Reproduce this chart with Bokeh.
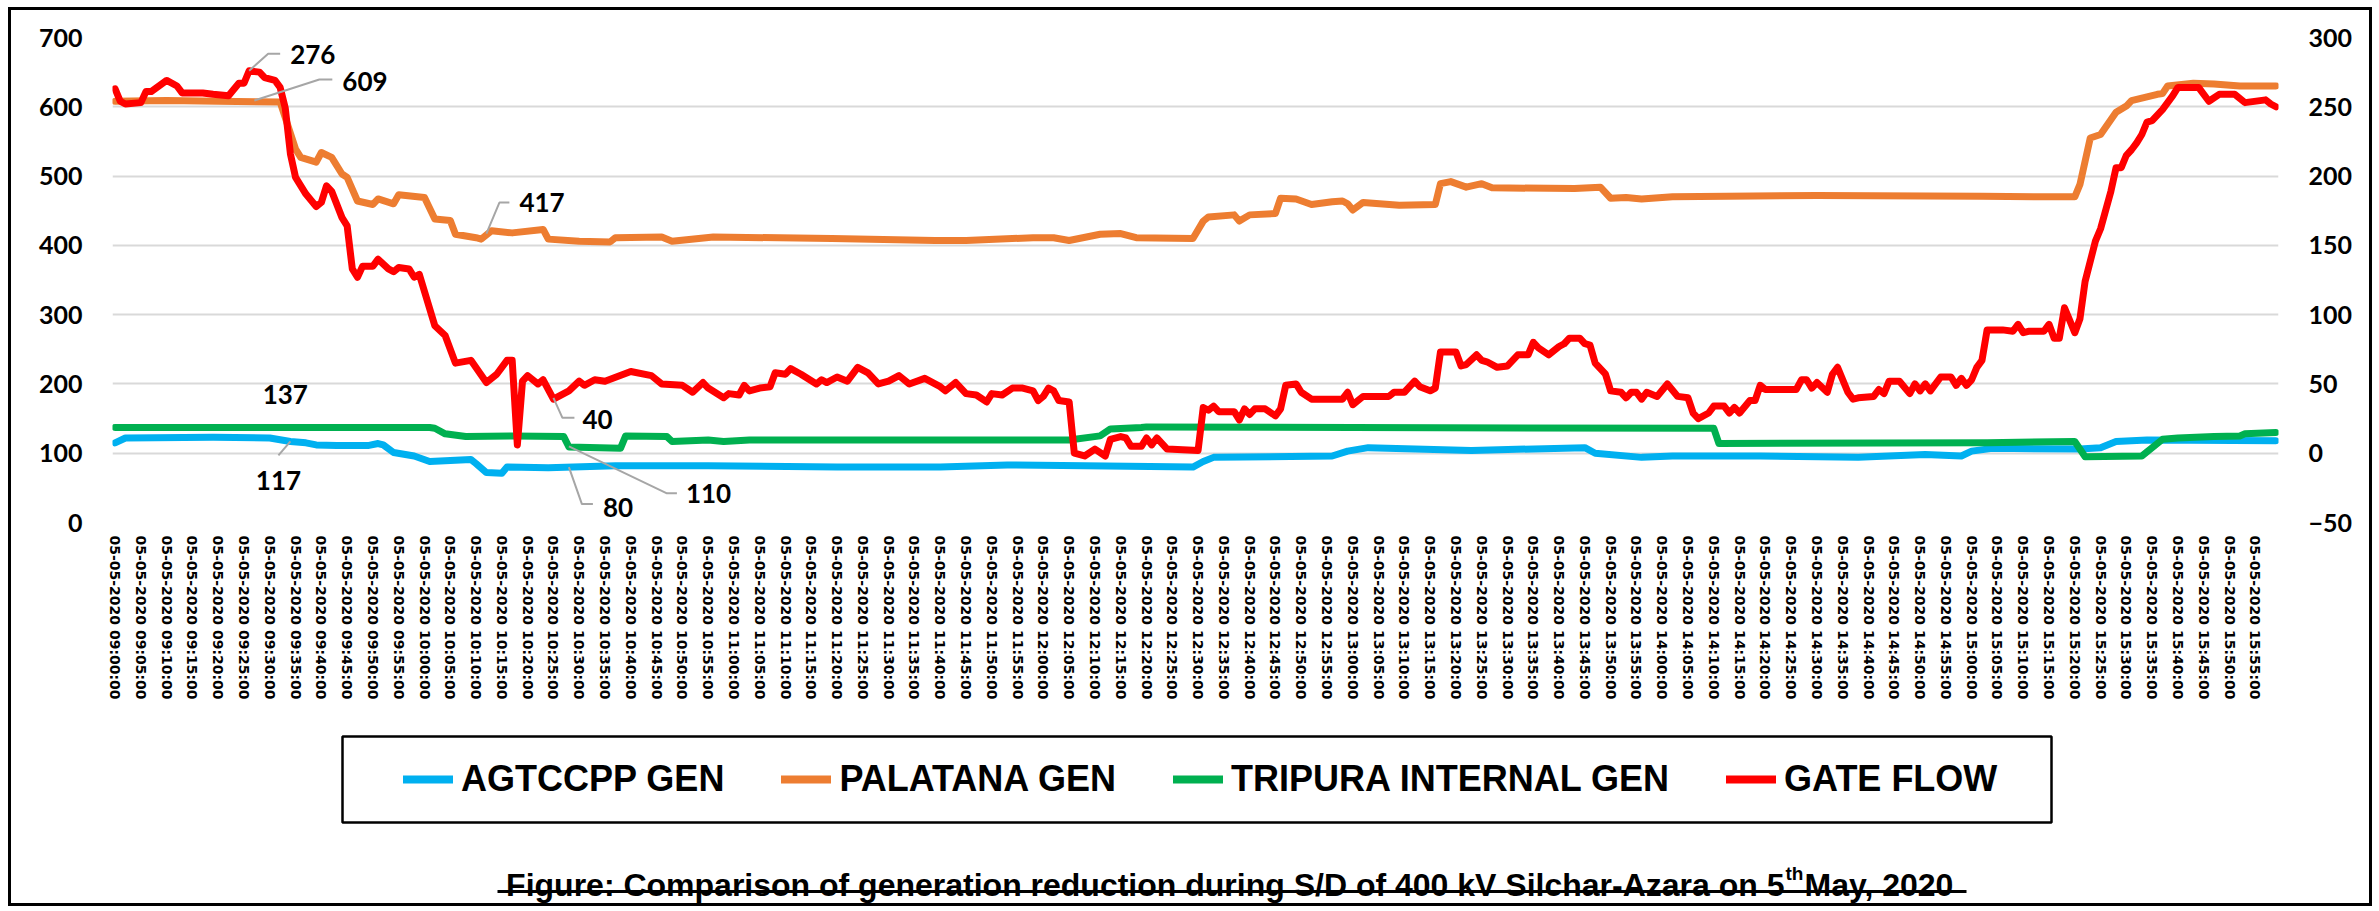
import math
from bokeh.plotting import figure
from bokeh.layouts import column
from bokeh.models import Range1d, LinearAxis, FixedTicker, Legend, LegendItem
from bokeh.core.properties import value
from bokeh.embed import file_html
from bokeh.resources import INLINE

# ---------------- data (minutes after 09:00, MW) ----------------
agtccpp_min = [0, 2, 19, 30, 34, 37, 39, 43, 49, 51,
               52, 54, 58, 61, 69, 70, 72, 75, 76, 84,
               97, 115, 140, 160, 173, 188, 209, 211, 213, 236,
               239, 243, 263, 285, 287, 296, 302, 319, 338, 351,
               358, 360, 364, 381, 385, 388, 394, 419]
agtccpp_mw = [115, 122, 123, 122, 117, 115, 112, 111, 111, 114,
              112, 101, 96, 88, 91, 85, 72, 71, 80, 79,
              82, 82, 80, 80, 83, 82, 80, 88, 94, 96,
              103, 108, 104, 108, 100, 94, 96, 96, 94, 98,
              96, 103, 107, 106, 108, 117, 119, 118]

palatana_min = [0, 10, 20, 32, 35, 36, 39, 40, 42, 44,
                45, 47, 50, 51, 54, 55, 60, 62, 65, 66,
                70, 71, 73, 77, 83, 84, 90, 96, 97, 106,
                108, 116, 139, 159, 165, 178, 182, 185, 191, 195,
                198, 209, 211, 212, 217, 218, 220, 225, 226, 229,
                232, 236, 238, 239, 240, 242, 249, 256, 257, 259,
                262, 265, 267, 283, 288, 290, 293, 296, 302, 330,
                362, 375, 380, 381, 383, 385, 388, 390, 391, 396,
                397, 398, 403, 407, 412, 419]
palatana_mw = [608, 609, 608, 607, 539, 527, 520, 534, 527, 503,
               498, 464, 459, 467, 460, 473, 469, 438, 436, 416,
               411, 409, 421, 418, 423, 409, 406, 405, 411, 412,
               406, 412, 410, 407, 407, 411, 411, 407, 416, 417,
               411, 410, 435, 441, 444, 435, 444, 446, 468, 467,
               459, 463, 464, 460, 451, 462, 458, 459, 489, 492,
               484, 489, 483, 482, 484, 468, 469, 467, 470, 472,
               471, 470, 470, 488, 555, 560, 592, 601, 609, 618,
               619, 630, 634, 633, 630, 630]

tripura_min = [0, 61, 62, 64, 68, 77, 87, 88, 98, 99,
               107, 108, 115, 118, 123, 185, 191, 193, 199, 200,
               240, 310, 311, 363, 380, 382, 393, 397, 400, 407,
               412, 413, 419]
tripura_mw = [137, 137, 136, 128, 124, 125, 124, 109, 107, 125,
              124, 117, 119, 117, 119, 119, 125, 135, 137, 138,
              137, 136, 114, 115, 117, 95, 96, 120, 122, 124,
              125, 128, 130]

gate_min = [0, 1, 2, 5, 6, 7, 10, 12, 13, 15,
            17, 19, 22, 24, 25, 26, 28, 29, 31, 32,
            33, 34, 35, 37, 39, 40, 41, 42, 44, 45,
            46, 47, 48, 50, 51, 53, 54, 55, 57, 58,
            59, 62, 64, 66, 69, 72, 74, 76, 77, 78,
            79, 80, 82, 83, 85, 88, 90, 91, 93, 95,
            100, 104, 106, 110, 112, 114, 115, 118, 119, 121,
            122, 123, 125, 127, 128, 130, 131, 133, 136, 137,
            138, 140, 142, 144, 146, 148, 150, 152, 154, 157,
            160, 161, 163, 165, 167, 169, 170, 172, 174, 176,
            178, 179, 180, 181, 182, 183, 185, 186, 188, 190,
            192, 193, 195, 196, 197, 199, 200, 201, 202, 204,
            210, 211, 212, 213, 214, 217, 218, 219, 220, 221,
            223, 225, 226, 227, 229, 230, 232, 238, 239, 240,
            242, 247, 248, 250, 252, 253, 255, 256, 257, 260,
            261, 262, 264, 265, 266, 268, 270, 272, 274, 275,
            276, 278, 280, 281, 282, 284, 285, 286, 287, 289,
            290, 292, 293, 294, 295, 296, 297, 299, 301, 303,
            305, 306, 307, 309, 310, 312, 313, 314, 315, 317,
            318, 319, 320, 326, 327, 328, 329, 330, 332, 333,
            334, 336, 337, 338, 341, 342, 343, 344, 346, 348,
            349, 350, 351, 352, 354, 356, 357, 358, 359, 360,
            361, 362, 363, 366, 368, 369, 370, 371, 374, 375,
            376, 377, 378, 380, 381, 382, 384, 385, 387, 388,
            389, 390, 391, 392, 393, 394, 395, 397, 399, 400,
            404, 406, 408, 411, 413, 417, 418, 419]
gate_mw = [263, 254, 252, 253, 261, 261, 269, 265, 260, 260,
           260, 259, 258, 267, 267, 276, 275, 271, 269, 264,
           249, 216, 199, 187, 178, 181, 193, 189, 170, 164,
           133, 127, 135, 135, 140, 133, 131, 134, 133, 127,
           129, 92, 85, 65, 67, 51, 57, 67, 67, 6,
           52, 56, 50, 53, 39, 45, 52, 49, 53, 52,
           59, 56, 50, 49, 44, 51, 47, 40, 43, 42,
           49, 45, 47, 48, 58, 57, 61, 57, 50, 53,
           51, 55, 52, 62, 58, 50, 52, 56, 50, 54,
           48, 45, 51, 43, 42, 37, 43, 42, 47, 47,
           45, 38, 41, 47, 45, 38, 37, 0, -2, 3,
           -2, 10, 12, 11, 5, 5, 11, 6, 11, 3,
           2, 33, 31, 34, 30, 30, 24, 32, 28, 32,
           32, 27, 32, 49, 50, 44, 39, 39, 44, 35,
           41, 41, 44, 44, 52, 48, 45, 47, 73, 73,
           63, 64, 71, 67, 66, 62, 63, 71, 71, 80,
           76, 71, 77, 79, 83, 83, 79, 78, 65, 57,
           45, 44, 40, 44, 44, 39, 44, 41, 50, 41,
           40, 29, 25, 29, 34, 34, 29, 33, 29, 38,
           38, 49, 46, 46, 53, 53, 47, 51, 44, 57,
           62, 44, 39, 40, 41, 46, 43, 52, 52, 43,
           50, 45, 50, 45, 55, 55, 49, 54, 49, 53,
           62, 67, 89, 89, 88, 93, 87, 88, 88, 93,
           83, 83, 105, 87, 97, 124, 153, 162, 189, 206,
           206, 215, 219, 224, 230, 239, 240, 248, 258, 264,
           264, 254, 259, 259, 253, 255, 252, 250]

series_names = ["AGTCCPP GEN", "PALATANA GEN", "TRIPURA INTERNAL GEN", "GATE FLOW"]
left_ticks = [0, 100, 200, 300, 400, 500, 600, 700]
right_ticks = [-50, 0, 50, 100, 150, 200, 250, 300]
tick_minutes = list(range(0, 420, 5))
tick_labels = ["05-05-2020 %02d:%02d:00" % (9 + m // 60, m % 60) for m in tick_minutes]

caption_main = "Figure: Comparison of generation reduction during S/D of 400 kV Silchar-Azara on 5"
caption_sup = "th"
caption_tail = " May, 2020"

# data labels
ann_text = ["276", "609", "137", "117", "417", "40", "110", "80"]
ann_min = [26, 27, 33, 34, 72, 85, 88, 88]
ann_val = [276, 609, 137, 117, 417, 40, 110, 80]
ann_axis = ["right", "left", "left", "left", "left", "right", "left", "left"]

# ---------------- layout / style ----------------
W = 2358
H1, H2 = 700, 193
BL, BR, BT = 101, 91, 27
FRAME_H = 485
BB = H1 - BT - FRAME_H
FRAME_W = W - BL - BR
XMIN, XMAX = -0.5, 419.5
LMIN, LMAX = 0, 700
RMIN, RMAX = -50, 300

C_BLUE, C_ORANGE, C_GREEN, C_RED = "#00B0F0", "#ED7D31", "#00B050", "#FF0000"
NUM_FONT = "Lato"
TXT_FONT = "Liberation Sans"
LW = 7

p = figure(width=W, height=H1, output_backend="svg", toolbar_location=None,
           x_range=Range1d(XMIN, XMAX), y_range=Range1d(LMIN, LMAX),
           min_border_left=BL, min_border_right=BR, min_border_top=BT, min_border_bottom=BB)
p.extra_y_ranges = {"right": Range1d(RMIN, RMAX)}
p.outline_line_color = None
p.background_fill_color = "white"
p.border_fill_color = "white"
p.xgrid.visible = False
p.ygrid.grid_line_color = "#d9d9d9"
p.ygrid.grid_line_width = 2


def style_y(axis):
    axis.axis_line_color = None
    axis.major_tick_line_color = None
    axis.minor_tick_line_color = None
    axis.major_tick_out = 0
    axis.major_label_standoff = 30
    axis.major_label_text_font = NUM_FONT
    axis.major_label_text_font_style = "bold"
    axis.major_label_text_font_size = "25px"
    axis.major_label_text_color = "black"


ya = p.yaxis[0]
ya.ticker = FixedTicker(ticks=left_ticks)
style_y(ya)

ra = LinearAxis(y_range_name="right", ticker=FixedTicker(ticks=right_ticks))
style_y(ra)
p.add_layout(ra, "right")

xa = p.xaxis[0]
xa.ticker = FixedTicker(ticks=tick_minutes)
xa.major_label_overrides = {m: lab for m, lab in zip(tick_minutes, tick_labels)}
xa.major_label_orientation = "vertical"
xa.axis_line_color = None
xa.major_tick_line_color = None
xa.minor_tick_line_color = None
xa.major_tick_out = 0
xa.major_label_standoff = 13
xa.major_label_text_font = "DejaVu Sans"
xa.major_label_text_font_style = "bold"
xa.major_label_text_font_size = "14px"
xa.major_label_text_color = "black"

# series
line_kw = dict(line_width=LW, line_join="round", line_cap="round")
p.line(agtccpp_min, agtccpp_mw, line_color=C_BLUE, **line_kw)
p.line(palatana_min, palatana_mw, line_color=C_ORANGE, **line_kw)
p.line(tripura_min, tripura_mw, line_color=C_GREEN, **line_kw)
p.line(gate_min, gate_mw, line_color=C_RED, y_range_name="right", **line_kw)

# data labels with leader lines (offsets in px relative to the labelled point)
px_per_min = FRAME_W / (XMAX - XMIN)
px_per_left = FRAME_H / (LMAX - LMIN)
txt_dx = [41, 88, 0, -12, 33, 29, 117, 34]
txt_dy = [-16, -19, -33, 39, -31, 22, 47, 40]
txt_align = ["left", "left", "center", "center", "left", "left", "left", "left"]
leaders = [[(0, 0), (19, -17), (31, -17)],
           [(0, 0), (65, -21), (78, -21)],
           [],
           [(0, 0), (-12, 14)],
           [(0, 0), (13, -31), (23, -31)],
           [(0, 0), (9, 20), (21, 20)],
           [(0, 0), (98, 47), (108, 47)],
           [(0, 0), (13, 37), (24, 37)]]


def to_left(v, axis):
    if axis == "right":
        return LMIN + (v - RMIN) * (LMAX - LMIN) / (RMAX - RMIN)
    return v


ax = [to_left(v, a) for v, a in zip(ann_val, ann_axis)]
lx, ly = [], []
for m, yv, path in zip(ann_min, ax, leaders):
    if not path:
        continue
    lx.append([m + dx / px_per_min for dx, dy in path])
    ly.append([yv - dy / px_per_left for dx, dy in path])
p.multi_line(lx, ly, line_color="#a6a6a6", line_width=2)

for i in range(len(ann_text)):
    p.text(x=[ann_min[i]], y=[ax[i]], text=[ann_text[i]], x_offset=txt_dx[i], y_offset=txt_dy[i],
           text_align=txt_align[i], text_baseline="middle", text_font=value(NUM_FONT),
           text_font_style="bold", text_font_size="26px", text_color="black")

# ---------------- lower panel: legend + caption (coordinates = canvas pixels) ----------------
p2 = figure(width=W, height=H2, output_backend="svg", toolbar_location=None,
            x_range=Range1d(BL, W - BR), y_range=Range1d(0, H2),
            x_axis_location=None, y_axis_location=None,
            min_border_left=BL, min_border_right=BR, min_border_top=0, min_border_bottom=0)
p2.outline_line_color = None
p2.grid.visible = False
p2.background_fill_color = "white"
p2.border_fill_color = "white"

nan = float("nan")
proxies = [p2.line([nan], [nan], line_color=col, line_width=8, line_cap="round")
           for col in (C_BLUE, C_ORANGE, C_GREEN, C_RED)]

# legend frame
p2.quad(left=[331], right=[2040], top=[167], bottom=[81], fill_color=None,
        line_color="black", line_width=2.5)

legend = Legend(items=[LegendItem(label=n, renderers=[r]) for n, r in zip(series_names, proxies)],
                orientation="horizontal", location=(392 - BL, 103))
legend.label_text_font = TXT_FONT
legend.label_text_font_style = "bold"
legend.label_text_font_size = "36px"
legend.label_text_color = "black"
legend.glyph_width = 50
legend.glyph_height = 42
legend.label_height = 42
legend.label_standoff = 8
legend.spacing = 57
legend.padding = 0
legend.margin = 0
legend.border_line_color = None
legend.background_fill_alpha = 0
p2.add_layout(legend)

CAP_X, CAP_Y = 1773, 19
cap_kw = dict(text_baseline="alphabetic", text_font=value(TXT_FONT), text_font_style="bold",
              text_color="black")
p2.text(x=[CAP_X], y=[CAP_Y], text=[caption_main], text_align="right", text_font_size="32px", **cap_kw)
p2.text(x=[CAP_X + 1], y=[CAP_Y + 11], text=[caption_sup], text_align="left", text_font_size="19px", **cap_kw)
p2.text(x=[CAP_X + 20], y=[CAP_Y], text=[caption_tail], text_align="left", text_font_size="32px", **cap_kw)
p2.segment(x0=[486], y0=[CAP_Y - 7], x1=[1955], y1=[CAP_Y - 7], line_color="black", line_width=3)

# outer black frame drawn just outside the layout box
layout = column(p, p2, spacing=0,
                styles={"margin": "10px 0 0 11px", "box-shadow": "0 0 0 3px black"})

open("out.html", "w").write(file_html(layout, INLINE))
